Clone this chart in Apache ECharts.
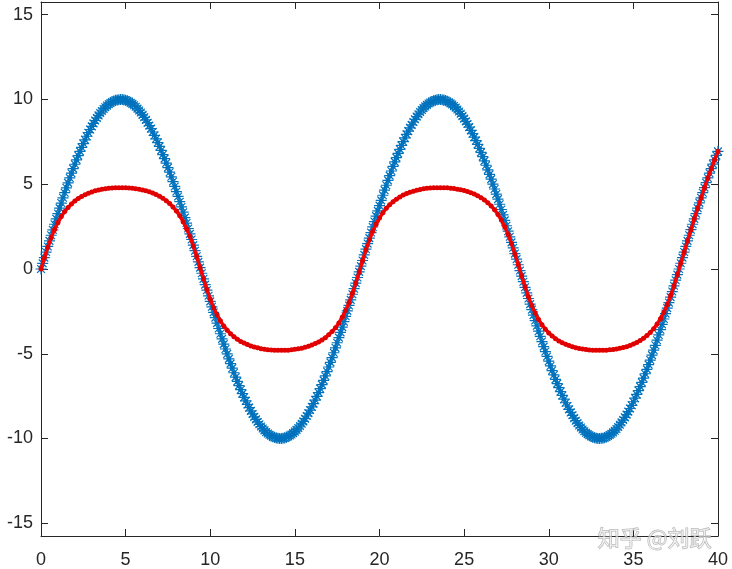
<!DOCTYPE html>
<html>
<head>
<meta charset="utf-8">
<script src="https://cdn.jsdelivr.net/npm/echarts@6/dist/echarts.min.js"></script>
<style>html,body{margin:0;padding:0;background:#fff}#c{width:732px;height:569px}</style>
</head>
<body>
<div id="c"></div>
<script>
// x positions of the samples at even tenths (0, 0.2, ... 40)
const xsEven = [0,0.2,0.4,0.6,0.8,1,1.2,1.4,1.6,1.8,2,2.2,2.4,2.6,2.8,3,3.2,3.4,3.6,3.8,
4,4.2,4.4,4.6,4.8,5,5.2,5.4,5.6,5.8,6,6.2,6.4,6.6,6.8,7,7.2,7.4,7.6,7.8,
8,8.2,8.4,8.6,8.8,9,9.2,9.4,9.6,9.8,10,10.2,10.4,10.6,10.8,11,11.2,11.4,11.6,11.8,
12,12.2,12.4,12.6,12.8,13,13.2,13.4,13.6,13.8,14,14.2,14.4,14.6,14.8,15,15.2,15.4,15.6,15.8,
16,16.2,16.4,16.6,16.8,17,17.2,17.4,17.6,17.8,18,18.2,18.4,18.6,18.8,19,19.2,19.4,19.6,19.8,
20,20.2,20.4,20.6,20.8,21,21.2,21.4,21.6,21.8,22,22.2,22.4,22.6,22.8,23,23.2,23.4,23.6,23.8,
24,24.2,24.4,24.6,24.8,25,25.2,25.4,25.6,25.8,26,26.2,26.4,26.6,26.8,27,27.2,27.4,27.6,27.8,
28,28.2,28.4,28.6,28.8,29,29.2,29.4,29.6,29.8,30,30.2,30.4,30.6,30.8,31,31.2,31.4,31.6,31.8,
32,32.2,32.4,32.6,32.8,33,33.2,33.4,33.6,33.8,34,34.2,34.4,34.6,34.8,35,35.2,35.4,35.6,35.8,
36,36.2,36.4,36.6,36.8,37,37.2,37.4,37.6,37.8,38,38.2,38.4,38.6,38.8,39,39.2,39.4,39.6,39.8,
40];
// x positions of the samples at odd tenths (0.1, 0.3, ... 39.9)
const xsOdd = [0.1,0.3,0.5,0.7,0.9,1.1,1.3,1.5,1.7,1.9,2.1,2.3,2.5,2.7,2.9,3.1,3.3,3.5,3.7,3.9,
4.1,4.3,4.5,4.7,4.9,5.1,5.3,5.5,5.7,5.9,6.1,6.3,6.5,6.7,6.9,7.1,7.3,7.5,7.7,7.9,
8.1,8.3,8.5,8.7,8.9,9.1,9.3,9.5,9.7,9.9,10.1,10.3,10.5,10.7,10.9,11.1,11.3,11.5,11.7,11.9,
12.1,12.3,12.5,12.7,12.9,13.1,13.3,13.5,13.7,13.9,14.1,14.3,14.5,14.7,14.9,15.1,15.3,15.5,15.7,15.9,
16.1,16.3,16.5,16.7,16.9,17.1,17.3,17.5,17.7,17.9,18.1,18.3,18.5,18.7,18.9,19.1,19.3,19.5,19.7,19.9,
20.1,20.3,20.5,20.7,20.9,21.1,21.3,21.5,21.7,21.9,22.1,22.3,22.5,22.7,22.9,23.1,23.3,23.5,23.7,23.9,
24.1,24.3,24.5,24.7,24.9,25.1,25.3,25.5,25.7,25.9,26.1,26.3,26.5,26.7,26.9,27.1,27.3,27.5,27.7,27.9,
28.1,28.3,28.5,28.7,28.9,29.1,29.3,29.5,29.7,29.9,30.1,30.3,30.5,30.7,30.9,31.1,31.3,31.5,31.7,31.9,
32.1,32.3,32.5,32.7,32.9,33.1,33.3,33.5,33.7,33.9,34.1,34.3,34.5,34.7,34.9,35.1,35.3,35.5,35.7,35.9,
36.1,36.3,36.5,36.7,36.9,37.1,37.3,37.5,37.7,37.9,38.1,38.3,38.5,38.7,38.9,39.1,39.3,39.5,39.7,39.9];
// blue '*' series at xsEven
const blueEven = [0,0.67,1.33,1.99,2.64,3.27,3.89,4.50,5.08,5.65,
6.18,6.69,7.17,7.62,8.04,8.41,8.76,9.06,9.32,9.54,
9.72,9.85,9.95,9.99,10.00,9.96,9.87,9.74,9.57,9.35,
9.09,8.80,8.46,8.08,7.68,7.23,6.75,6.25,5.71,5.16,
4.57,3.97,3.35,2.71,2.07,1.41,0.75,0.08,-0.58,-1.25,
-1.91,-2.56,-3.19,-3.82,-4.43,-5.01,-5.58,-6.12,-6.63,-7.12,
-7.57,-7.99,-8.37,-8.72,-9.02,-9.29,-9.52,-9.70,-9.84,-9.94,
-9.99,-10.00,-9.97,-9.88,-9.76,-9.59,-9.38,-9.13,-8.83,-8.50,
-8.13,-7.73,-7.29,-6.82,-6.31,-5.78,-5.23,-4.65,-4.05,-3.43,
-2.79,-2.15,-1.49,-0.83,-0.17,0.50,1.17,1.82,2.48,3.12,
3.74,4.35,4.94,5.51,6.05,6.57,7.06,7.51,7.94,8.33,
8.67,8.99,9.26,9.49,9.68,9.82,9.93,9.99,10.00,9.97,
9.89,9.77,9.61,9.41,9.16,8.87,8.55,8.18,7.78,7.35,
6.88,6.38,5.85,5.30,4.72,4.12,3.51,2.87,2.23,1.57,
0.91,0.25,-0.42,-1.08,-1.74,-2.40,-3.04,-3.67,-4.28,-4.87,
-5.44,-5.99,-6.51,-7.00,-7.46,-7.89,-8.28,-8.63,-8.95,-9.23,
-9.47,-9.66,-9.81,-9.92,-9.98,-10.00,-9.98,-9.91,-9.79,-9.64,
-9.44,-9.19,-8.91,-8.59,-8.23,-7.83,-7.40,-6.94,-6.44,-5.92,
-5.37,-4.79,-4.20,-3.58,-2.95,-2.31,-1.66,-0.99,-0.33,0.34,
1.00,1.66,2.32,2.96,3.59,4.20,4.80,5.37,5.92,6.44,
6.94];
// blue '*' series at xsOdd
const blueOdd = [0.33,1.00,1.66,2.31,2.96,3.59,4.20,4.79,5.37,5.92,
6.44,6.94,7.40,7.83,8.23,8.59,8.91,9.20,9.44,9.64,
9.79,9.91,9.97,10.00,9.98,9.92,9.81,9.66,9.46,9.23,
8.95,8.63,8.28,7.88,7.46,7.00,6.51,5.98,5.44,4.87,
4.28,3.66,3.03,2.39,1.74,1.08,0.42,-0.25,-0.92,-1.58,
-2.23,-2.87,-3.51,-4.12,-4.72,-5.30,-5.85,-6.38,-6.88,-7.35,
-7.78,-8.18,-8.55,-8.87,-9.16,-9.41,-9.62,-9.78,-9.90,-9.97,
-10.00,-9.99,-9.93,-9.82,-9.68,-9.49,-9.26,-8.99,-8.67,-8.32,
-7.94,-7.51,-7.06,-6.57,-6.05,-5.51,-4.94,-4.35,-3.74,-3.11,
-2.47,-1.82,-1.16,-0.50,0.17,0.83,1.50,2.15,2.80,3.43,
4.05,4.65,5.23,5.78,6.32,6.82,7.29,7.73,8.13,8.50,
8.83,9.13,9.38,9.59,9.76,9.88,9.96,10.00,9.99,9.94,
9.84,9.70,9.52,9.29,9.02,8.71,8.37,7.98,7.57,7.12,
6.63,6.12,5.58,5.01,4.42,3.82,3.19,2.55,1.90,1.25,
0.58,-0.09,-0.75,-1.41,-2.07,-2.72,-3.35,-3.97,-4.58,-5.16,
-5.72,-6.25,-6.76,-7.23,-7.68,-8.08,-8.46,-8.80,-9.09,-9.35,
-9.57,-9.74,-9.87,-9.96,-10.00,-9.99,-9.95,-9.85,-9.72,-9.54,
-9.32,-9.05,-8.75,-8.41,-8.04,-7.62,-7.17,-6.69,-6.18,-5.64,
-5.08,-4.50,-3.89,-3.27,-2.63,-1.98,-1.33,-0.66,0.00,0.67,
1.33,1.99,2.64,3.27,3.90,4.50,5.09,5.65,6.19,6.70];
// red series at xsEven
const redVals = [0,0.66,1.28,1.85,2.33,2.74,3.10,3.39,3.63,3.84,
4.01,4.16,4.28,4.38,4.47,4.54,4.61,4.66,4.70,4.74,
4.76,4.78,4.80,4.80,4.80,4.80,4.78,4.77,4.74,4.70,
4.66,4.61,4.55,4.48,4.39,4.29,4.17,4.03,3.86,3.66,
3.42,3.14,2.79,2.38,1.91,1.35,0.74,0.08,-0.58,-1.21,
-1.78,-2.28,-2.70,-3.06,-3.36,-3.61,-3.82,-3.99,-4.14,-4.27,
-4.37,-4.46,-4.54,-4.60,-4.65,-4.70,-4.73,-4.76,-4.78,-4.79,
-4.80,-4.80,-4.80,-4.79,-4.77,-4.74,-4.71,-4.67,-4.62,-4.56,
-4.49,-4.40,-4.31,-4.19,-4.05,-3.88,-3.69,-3.46,-3.18,-2.84,
-2.44,-1.97,-1.43,-0.82,-0.17,0.50,1.13,1.71,2.22,2.65,
3.01,3.32,3.58,3.79,3.97,4.12,4.25,4.36,4.45,4.53,
4.59,4.65,4.69,4.73,4.76,4.78,4.79,4.80,4.80,4.80,
4.79,4.77,4.75,4.71,4.67,4.63,4.57,4.50,4.42,4.32,
4.21,4.07,3.91,3.72,3.49,3.21,2.89,2.49,2.03,1.49,
0.89,0.25,-0.42,-1.05,-1.64,-2.16,-2.60,-2.98,-3.29,-3.55,
-3.77,-3.95,-4.11,-4.24,-4.35,-4.44,-4.52,-4.58,-4.64,-4.69,
-4.72,-4.75,-4.78,-4.79,-4.80,-4.80,-4.80,-4.79,-4.77,-4.75,
-4.72,-4.68,-4.63,-4.58,-4.51,-4.43,-4.33,-4.22,-4.09,-3.93,
-3.74,-3.52,-3.25,-2.93,-2.55,-2.09,-1.57,-0.99,-0.33,0.34,
1.00,1.66,2.32,2.96,3.59,4.20,4.80,5.37,5.92,6.44,
6.94];
const xTicks = [0,5,10,15,20,25,30,35,40];
const yTicks = [-15,-10,-5,0,5,10,15];
const watermark = '知乎 @刘跃';

const AX = '#262626';
const FONT = '"Liberation Sans", Arial, Helvetica, sans-serif';
const asterisk = 'path://M0,-10L0,10M-10,0L10,0M-7.07,-7.07L7.07,7.07M-7.07,7.07L7.07,-7.07';

const blueData = xsEven.map((x, i) => [x, blueEven[i]])
  .concat(xsOdd.map((x, i) => [x, blueOdd[i]]))
  .sort((a, b) => a[0] - b[0]);
const redData = xsEven.map((x, i) => [x, redVals[i]]);

function xAx(pos, showLabel) {
  return {
    type: 'value', position: pos, min: xTicks[0], max: xTicks[xTicks.length - 1], interval: 5,
    axisLine: { show: true, onZero: false, lineStyle: { color: AX, width: 1 } },
    axisTick: { show: true, inside: true, length: 7, lineStyle: { color: AX } },
    axisLabel: { show: showLabel, fontSize: 18, color: AX, fontFamily: FONT, margin: 15 },
    splitLine: { show: false }
  };
}
function yAx(pos, showLabel) {
  return {
    type: 'value', position: pos, min: -15.75, max: 15.75,
    axisLine: { show: true, onZero: false, lineStyle: { color: AX, width: 1 } },
    axisTick: { show: true, inside: true, length: 7, lineStyle: { color: AX }, customValues: yTicks },
    axisLabel: { show: showLabel, fontSize: 18, color: AX, fontFamily: FONT, margin: 8, customValues: yTicks },
    splitLine: { show: false }
  };
}

const chart = echarts.init(document.getElementById('c'), null, { renderer: 'canvas' });
chart.setOption({
  animation: false,
  backgroundColor: '#fff',
  grid: { left: 41, right: 14, top: 2, bottom: 32, containLabel: false },
  xAxis: [xAx('bottom', true), xAx('top', false)],
  yAxis: [yAx('left', true), yAx('right', false)],
  series: [
    {
      type: 'line', name: 'blue',
      data: blueData,
      symbol: asterisk, symbolSize: 11, showSymbol: true, showAllSymbol: true,
      itemStyle: { color: 'rgba(0,0,0,0)', borderColor: '#0072BD', borderWidth: 1.2 },
      lineStyle: { color: '#0072BD', width: 1 },
      z: 2
    },
    {
      type: 'line', name: 'red',
      data: redData,
      symbol: 'circle', symbolSize: 5, showSymbol: true, showAllSymbol: true,
      itemStyle: { color: '#e00000' },
      lineStyle: { color: '#ff0000', width: 3.5 },
      z: 3
    }
  ],
  graphic: [{
    type: 'text', right: 20, bottom: 20, z: 100,
    style: { text: watermark, fontSize: 22, fontFamily: '"Noto Sans CJK SC", sans-serif',
      fill: 'rgba(255,255,255,0.5)', stroke: 'rgba(160,160,160,0.8)', lineWidth: 1 }
  }]
});
</script>
</body>
</html>
